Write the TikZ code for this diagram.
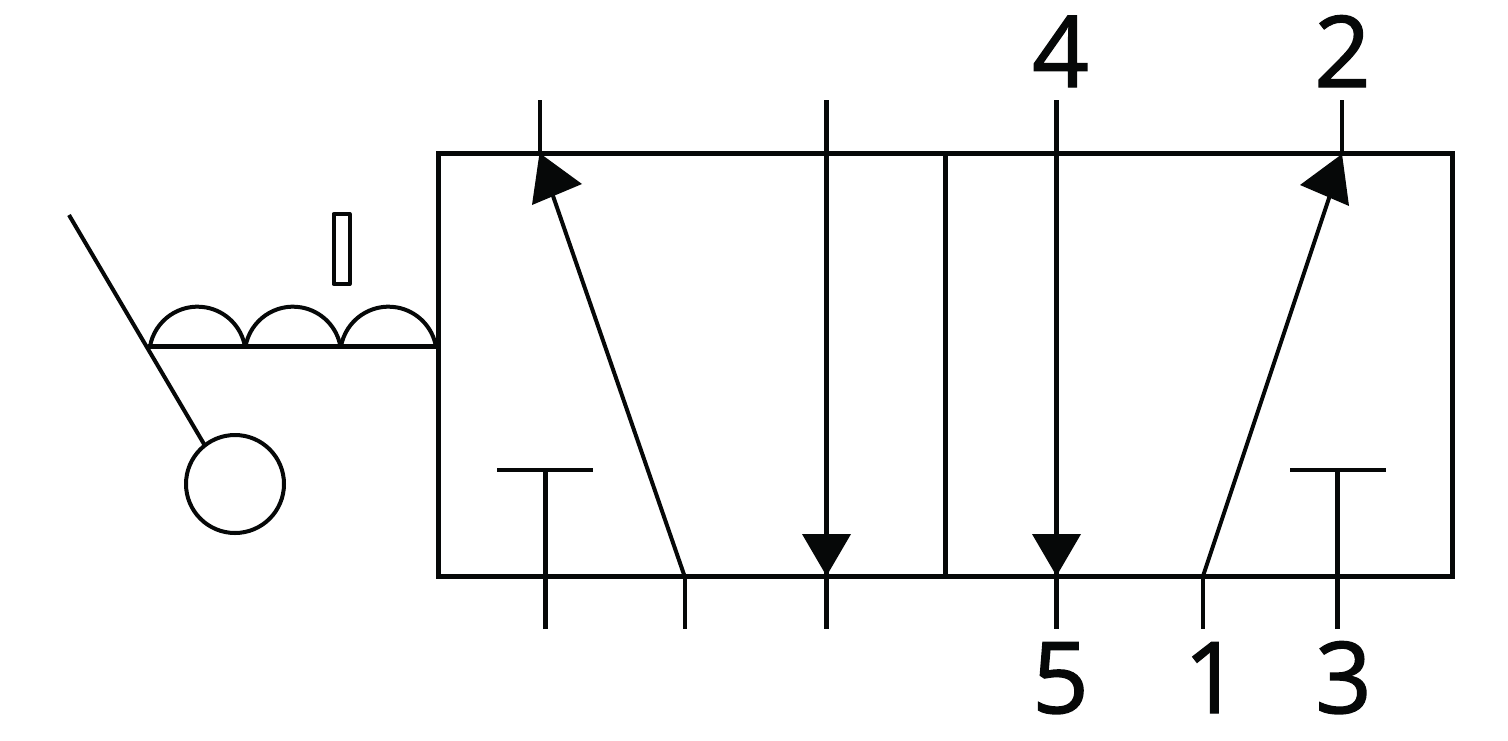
\documentclass[tikz,border=0pt]{standalone}
\usepackage{fontspec}
\newfontfamily\portfont[FakeBold=1.4]{Open Sans}
\begin{document}
\begin{tikzpicture}[x=0.5pt,y=-0.5pt,
  thick line/.style={line width=2.5pt,draw=ink,line cap=butt},
  thin line/.style={line width=2pt,draw=ink,line cap=butt},
  head/.style={fill=ink,draw=none},
  port/.style={font=\portfont\fontsize{49.5}{50}\selectfont,text=ink,anchor=base,inner sep=0pt,outer sep=0pt}]
\definecolor{ink}{HTML}{060808}
\useasboundingbox (0,0) rectangle (1508,740);
% valve body
\coordinate (tl) at (438,153.5); \coordinate (tr) at (1452.5,153.5);
\coordinate (bl) at (438,576); \coordinate (br) at (1452.5,576);
\coordinate (mt) at (945.5,153.5); \coordinate (mb) at (945.5,576);
\draw[thick line,line join=miter] (tl) -- (tr) -- (br) -- (bl) -- cycle;
\draw[thick line] (mt) -- (mb);
% port labels
\node[port] (p4) at (1060.5,87) {4};
\node[port] (p2) at (1342.5,87) {2};
\node[port] (p5) at (1060.5,713) {5};
\node[port] (p1) at (1212,713) {1};
\node[port] (p3) at (1343.5,713) {3};
% left position
\coordinate (a1) at (539.5,100); \coordinate (a2) at (539.5,153);
\coordinate (a3) at (684.5,576); \coordinate (a4) at (552,193);
\coordinate (a5) at (684.5,629);
\coordinate (b1) at (826.5,100); \coordinate (b2) at (826.5,629);
\coordinate (c1) at (545.5,629); \coordinate (c2) at (545.5,469);
\coordinate (c3) at (497,469.5); \coordinate (c4) at (593,469.5);
\draw[thin line] (a1) -- (a2);
\draw[thin line] (a3) -- (a4);
\draw[thin line] (a3) -- (a5);
\draw[thick line] (b1) -- (b2);
\draw[thick line] (c1) -- (c2);
\draw[thin line] (c3) -- (c4);
\fill[head] (539.5,153) -- (582,184) -- (532,205) -- cycle;
\fill[head] (826.5,576) -- (802,534) -- (851,534) -- cycle;
% right position
\coordinate (d1) at (1056.5,100); \coordinate (d2) at (1056.5,629);
\coordinate (e1) at (1341.5,100); \coordinate (e2) at (1341.5,153);
\coordinate (f1) at (1203,576); \coordinate (f2) at (1330,195);
\coordinate (f3) at (1203,629);
\coordinate (g1) at (1337.5,629); \coordinate (g2) at (1337.5,469);
\coordinate (g3) at (1290,469.5); \coordinate (g4) at (1386,469.5);
\draw[thick line] (d1) -- (d2);
\draw[thin line] (e1) -- (e2);
\draw[thin line] (f1) -- (f2);
\draw[thin line] (f1) -- (f3);
\draw[thick line] (g1) -- (g2);
\draw[thin line] (g3) -- (g4);
\fill[head] (1342,154) -- (1300,185) -- (1349,206) -- cycle;
\fill[head] (1056.5,576) -- (1032,534) -- (1081,534) -- cycle;
% lever actuator
\node[circle,draw=ink,line width=2pt,minimum size=49pt,inner sep=0pt,outer sep=0pt] at (235,484) (ball) {};
\coordinate (l1) at (69,215); \coordinate (l2) at (148,346.5); \coordinate (l3) at (204,444);
\draw[thin line] (l1) -- (l3);
\draw[thick line] (l2) -- (438,346.5);
\draw[thin line] (150,346.5) arc[start angle=190,end angle=350,radius=48.2];
\draw[thin line] (245.5,346.5) arc[start angle=190,end angle=350,radius=48.2];
\draw[thin line] (341,346.5) arc[start angle=190,end angle=350,radius=48.2];
\draw[thin line,line join=round] (333.5,214) rectangle (349.5,284);
\end{tikzpicture}
\end{document}
